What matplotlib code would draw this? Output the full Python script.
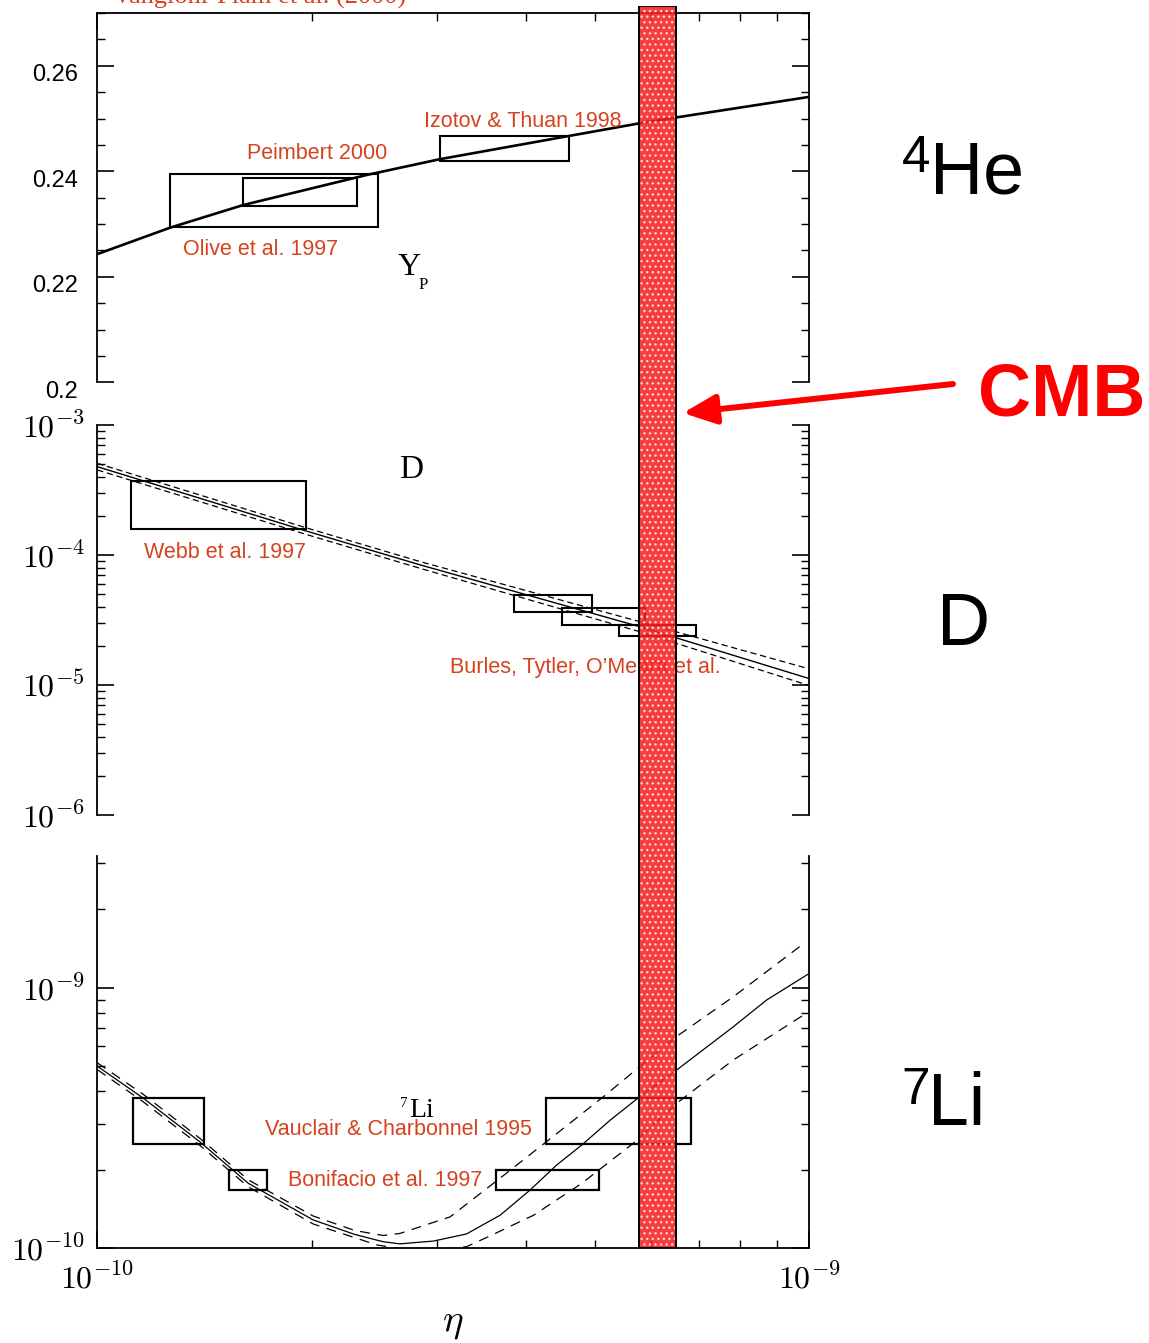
import matplotlib
matplotlib.use('Agg')
import matplotlib.pyplot as plt
import matplotlib.transforms as mtransforms
from matplotlib.patches import Rectangle
from matplotlib.ticker import FixedLocator, FixedFormatter, MultipleLocator, NullFormatter

plt.rcParams['mathtext.fontset'] = 'cm'
plt.rcParams['hatch.linewidth'] = 1.0

# ---------------- data ----------------
# 4He mass fraction Yp vs eta
he_eta = [1.0e-10, 1.265e-10, 1.603e-10, 2.39e-10, 3.03e-10, 4.60e-10, 5.78e-10, 6.50e-10, 1.0e-9]
he_yp = [0.2243, 0.2293, 0.2336, 0.2393, 0.2423, 0.2467, 0.2491, 0.2502, 0.2541]
he_box_labels = ['Olive et al. 1997', 'Peimbert 2000', 'Izotov & Thuan 1998']
he_box_eta_lo = [1.265e-10, 1.603e-10, 3.03e-10]
he_box_eta_hi = [2.477e-10, 2.318e-10, 4.60e-10]
he_box_lo = [0.2295, 0.2335, 0.2419]
he_box_hi = [0.2395, 0.2388, 0.2467]

# Deuterium D/H vs eta
d_eta = [1.0e-10, 1.957e-10, 2.84e-10, 5.78e-10, 1.0e-9]
d_mid = [4.78e-4, 1.54e-4, 8.4e-5, 2.81e-5, 1.12e-5]
d_up = [5.07e-4, 1.63e-4, 8.9e-5, 3.07e-5, 1.33e-5]
d_low = [4.51e-4, 1.45e-4, 7.9e-5, 2.57e-5, 0.99e-5]
d_box_eta_lo = [1.115e-10, 3.853e-10, 4.49e-10, 5.41e-10]
d_box_eta_hi = [1.964e-10, 4.96e-10, 5.876e-10, 6.93e-10]
d_box_lo = [1.59e-4, 3.66e-5, 2.90e-5, 2.38e-5]
d_box_hi = [3.71e-4, 4.92e-5, 3.89e-5, 2.90e-5]

# 7Li/H vs eta
li_eta = [1.0e-10, 1.160e-10, 1.394e-10, 1.63e-10, 2.01e-10, 2.30e-10, 2.52e-10, 2.66e-10, 2.965e-10,
          3.30e-10, 3.68e-10, 4.05e-10, 4.42e-10, 4.79e-10, 5.25e-10, 5.78e-10, 6.51e-10,
          7.82e-10, 8.71e-10, 1.0e-9]
li_mid = [5.0e-10, 3.77e-10, 2.56e-10, 1.775e-10, 1.285e-10, 1.13e-10, 1.06e-10, 1.04e-10, 1.066e-10,
          1.135e-10, 1.34e-10, 1.67e-10, 2.09e-10, 2.49e-10, 3.10e-10, 3.82e-10, 4.83e-10,
          7.08e-10, 8.97e-10, 1.135e-9]
li_up_eta = [1.0e-10, 1.160e-10, 1.394e-10, 1.63e-10, 2.01e-10, 2.30e-10, 2.52e-10, 2.66e-10, 3.13e-10,
             3.68e-10, 4.27e-10, 5.14e-10, 5.78e-10, 6.50e-10, 7.82e-10, 9.70e-10]
li_up = [5.15e-10, 3.90e-10, 2.64e-10, 1.83e-10, 1.33e-10, 1.17e-10, 1.12e-10, 1.14e-10, 1.32e-10,
         1.86e-10, 2.56e-10, 3.82e-10, 4.98e-10, 6.48e-10, 9.23e-10, 1.44e-9]
li_low_eta = [1.0e-10, 1.160e-10, 1.394e-10, 1.63e-10, 2.01e-10, 2.47e-10, 2.85e-10, 3.30e-10,
              3.56e-10, 4.10e-10, 4.79e-10, 5.66e-10, 6.51e-10, 7.82e-10, 9.81e-10]
li_low = [4.85e-10, 3.65e-10, 2.48e-10, 1.72e-10, 1.24e-10, 1.03e-10, 0.97e-10, 1.014e-10,
          1.115e-10, 1.34e-10, 1.775e-10, 2.53e-10, 3.60e-10, 5.28e-10, 7.85e-10]
li_box_eta_lo = [1.121e-10, 4.27e-10, 1.532e-10, 3.63e-10]
li_box_eta_hi = [1.412e-10, 6.82e-10, 1.729e-10, 5.07e-10]
li_box_lo = [2.51e-10, 2.51e-10, 1.675e-10, 1.675e-10]
li_box_hi = [3.79e-10, 3.79e-10, 2.0e-10, 2.0e-10]

# CMB band in eta
cmb_lo, cmb_hi = 5.77e-10, 6.50e-10

x_major = [1e-10, 1e-9]
x_minor = [2e-10, 3e-10, 4e-10, 5e-10, 6e-10, 7e-10, 8e-10, 9e-10]
x_labels = ['$10^{-10}$', '$10^{-9}$']
he_ticks = [0.2, 0.22, 0.24, 0.26]
he_tick_labels = ['0.2', '0.22', '0.24', '0.26']
d_ticks = [1e-6, 1e-5, 1e-4, 1e-3]
d_tick_labels = ['$10^{-6}$', '$10^{-5}$', '$10^{-4}$', '$10^{-3}$']
li_ticks = [1e-10, 1e-9]
li_minor = [2e-10, 3e-10, 4e-10, 5e-10, 6e-10, 7e-10, 8e-10, 9e-10, 2e-9, 3e-9]
li_tick_labels = ['$10^{-10}$', '$10^{-9}$']

# ---------------- figure ----------------
W, H = 1149, 1343
RED = '#d4421e'
fig = plt.figure(figsize=(W / 100, H / 100), dpi=100)


def fx(px):
    return px / W


def fy(py):
    return 1 - py / H


xl, xr = 97.3, 809.3
ax1 = fig.add_axes([fx(xl), fy(382.3), (xr - xl) / W, (382.3 - 13.0) / H])
ax2 = fig.add_axes([fx(xl), fy(815.0), (xr - xl) / W, (815.0 - 425.0) / H])
ax3 = fig.add_axes([fx(xl), fy(1248.3), (xr - xl) / W, (1248.3 - 856.1) / H])

for ax in (ax1, ax2, ax3):
    ax.set_xscale('log')
    ax.set_xlim(1e-10, 1e-9)
    ax.patch.set_alpha(0)
    for s in ax.spines.values():
        s.set_linewidth(1.3)
    ax.xaxis.set_major_locator(FixedLocator(x_major))
    ax.xaxis.set_minor_locator(FixedLocator(x_minor))
    ax.xaxis.set_minor_formatter(NullFormatter())
    ax.tick_params(axis='both', which='both', direction='in', left=True, right=True)
    ax.tick_params(axis='both', which='major', length=12, width=1.2)
    ax.tick_params(axis='both', which='minor', length=5.5, width=1.0)
    ax.tick_params(axis='x', which='both', top=False, bottom=False, labelbottom=False)

# ---- top panel: 4He ----
ax1.spines['bottom'].set_visible(False)
ax1.set_ylim(0.2, 0.27)
ax1.yaxis.set_major_locator(FixedLocator(he_ticks))
ax1.yaxis.set_major_formatter(FixedFormatter(he_tick_labels))
ax1.yaxis.set_minor_locator(MultipleLocator(0.005))
ax1.tick_params(axis='x', which='both', top=True)
ax1.tick_params(axis='y', which='major', labelsize=17, pad=14)
for lab in ax1.get_yticklabels():
    lab.set_fontfamily('Liberation Sans')
off = mtransforms.ScaledTranslation(0, -0.07, fig.dpi_scale_trans)
for lab in ax1.get_yticklabels():
    lab.set_transform(lab.get_transform() + off)
ax1.plot(he_eta, he_yp, color='black', lw=1.9, solid_capstyle='butt')
for lo_e, hi_e, lo, hi in zip(he_box_eta_lo, he_box_eta_hi, he_box_lo, he_box_hi):
    ax1.add_patch(Rectangle((lo_e, lo), hi_e - lo_e, hi - lo, fill=False, ec='black', lw=1.5))

# ---- middle panel: D ----
ax2.spines['top'].set_visible(False)
ax2.spines['bottom'].set_visible(False)
ax2.set_yscale('log')
ax2.set_ylim(1e-6, 1e-3)
ax2.yaxis.set_major_locator(FixedLocator(d_ticks))
ax2.yaxis.set_major_formatter(FixedFormatter(d_tick_labels))
ax2.yaxis.set_minor_locator(FixedLocator([k * 10.0 ** e for e in (-6, -5, -4) for k in range(2, 10)]))
ax2.yaxis.set_minor_formatter(NullFormatter())
ax2.tick_params(axis='y', which='major', labelsize=23, pad=9)
ax2.plot(d_eta, d_mid, color='black', lw=1.0)
ax2.plot(d_eta, d_up, color='black', lw=0.9, dashes=(5, 3))
ax2.plot(d_eta, d_low, color='black', lw=0.9, dashes=(5, 3))
for lo_e, hi_e, lo, hi in zip(d_box_eta_lo, d_box_eta_hi, d_box_lo, d_box_hi):
    ax2.add_patch(Rectangle((lo_e, lo), hi_e - lo_e, hi - lo, fill=False, ec='black', lw=1.5))

# ---- bottom panel: 7Li ----
ax3.spines['top'].set_visible(False)
ax3.set_yscale('log')
ax3.set_ylim(1e-10, 3.2e-9)
ax3.yaxis.set_major_locator(FixedLocator(li_ticks))
ax3.yaxis.set_major_formatter(FixedFormatter(li_tick_labels))
ax3.yaxis.set_minor_locator(FixedLocator(li_minor))
ax3.yaxis.set_minor_formatter(NullFormatter())
ax3.tick_params(axis='y', which='major', labelsize=23, pad=9)
ax3.tick_params(axis='x', which='both', bottom=True, labelbottom=True)
ax3.xaxis.set_major_formatter(FixedFormatter(x_labels))
ax3.tick_params(axis='x', which='major', labelsize=23, pad=11)
ax3.plot(li_eta, li_mid, color='black', lw=0.9)
ax3.plot(li_up_eta, li_up, color='black', lw=0.9, dashes=(8, 6))
ax3.plot(li_low_eta, li_low, color='black', lw=0.9, dashes=(8, 6))
for lo_e, hi_e, lo, hi in zip(li_box_eta_lo, li_box_eta_hi, li_box_lo, li_box_hi):
    ax3.add_patch(Rectangle((lo_e, lo), hi_e - lo_e, hi - lo, fill=False, ec='black', lw=1.6))

# ---- red reference labels (drawn inside the axes so the band covers them) ----
def red_label(ax, px, py, s):
    ax.text(fx(px), fy(py), s, transform=fig.transFigure, color=RED, fontsize=15.5,
            family='Liberation Sans', ha='left', va='baseline')


red_label(ax1, 424, 126.7, 'Izotov & Thuan 1998')
red_label(ax1, 247, 159, 'Peimbert 2000')
red_label(ax1, 183, 255, 'Olive et al. 1997')
red_label(ax2, 144, 558.3, 'Webb et al. 1997')
red_label(ax2, 450, 673.3, 'Burles, Tytler, O\u2019Meara et al.')
red_label(ax3, 265, 1135, 'Vauclair & Charbonnel 1995')
red_label(ax3, 288, 1185.7, 'Bonifacio et al. 1997')

# serif in-panel labels
ser = 'Liberation Serif'
ax1.text(fx(398), fy(275), 'Y', transform=fig.transFigure, fontsize=23, family=ser, va='baseline')
ax1.text(fx(419), fy(289), 'P', transform=fig.transFigure, fontsize=12, family=ser, va='baseline')
ax2.text(fx(399), fy(478), 'D', transform=fig.transFigure, fontsize=24, family=ser, va='baseline')
ax3.text(fx(400), fy(1107), '7', transform=fig.transFigure, fontsize=11, family=ser, va='baseline')
ax3.text(fx(409), fy(1117), 'Li', transform=fig.transFigure, fontsize=20, family=ser, va='baseline')

# title (cut off at the top)
fig.text(fx(113), fy(4), 'Vangioni-Flam et al. (2000)', color=RED, fontsize=19,
         family=ser, ha='left', va='baseline')

# x label
fig.text(fx(453), fy(1322), r'$\eta$', fontsize=28, ha='center', va='center')

# ---- CMB band overlay ----
axb = fig.add_axes([fx(xl), fy(1248.3), (xr - xl) / W, (1248.3 - 6.0) / H])
axb.set_xscale('log')
axb.set_xlim(1e-10, 1e-9)
axb.set_ylim(0, 1)
axb.axis('off')
axb.axvspan(cmb_lo, cmb_hi, facecolor='#f52222', edgecolor='#ffe0e0', hatch='...',
            linewidth=0, alpha=0.88)
axb.axvspan(cmb_lo, cmb_hi, facecolor='none', edgecolor='black', linewidth=1.4)

axb.annotate('', xy=(683, H - 413), xycoords='figure pixels',
             xytext=(953, H - 384), textcoords='figure pixels',
             arrowprops=dict(arrowstyle='-|>,head_length=1.0,head_width=0.45',
                             mutation_scale=20, color='red', lw=4.3,
                             shrinkA=0, shrinkB=0),
             annotation_clip=False)

# right-hand side labels
sans = 'Liberation Sans'
fig.text(fx(978), fy(415), 'CMB', color='red', fontsize=53, fontweight='bold',
         family=sans, ha='left', va='baseline')
fig.text(fx(902), fy(172), '4', fontsize=37, family=sans, ha='left', va='baseline')
fig.text(fx(930), fy(193), 'He', fontsize=53, family=sans, ha='left', va='baseline')
fig.text(fx(937), fy(645), 'D', fontsize=53, family=sans, ha='left', va='baseline')
fig.text(fx(901), fy(1104), '7', fontsize=37, family=sans, ha='left', va='baseline')
fig.text(fx(928), fy(1125), 'Li', fontsize=53, family=sans, ha='left', va='baseline')

fig.savefig('out.png', dpi=100)
